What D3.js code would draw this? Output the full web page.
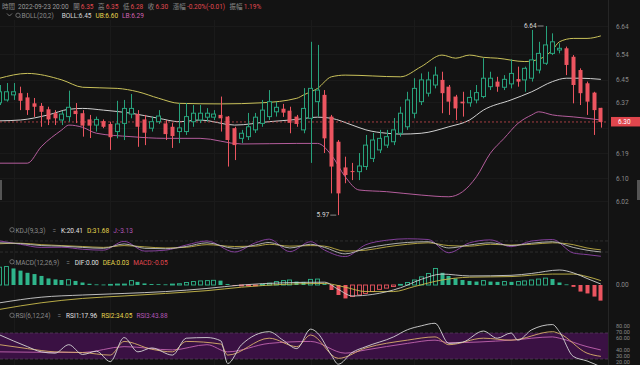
<!DOCTYPE html>
<html><head><meta charset="utf-8">
<script src="https://cdn.jsdelivr.net/npm/d3@7"></script>
<style>html,body{margin:0;padding:0;background:#131313;}svg{display:block;}</style>
</head><body><svg id="c" width="640" height="365"></svg>
<script>
// ---------------- DATA ----------------
const openP  = [6.368,6.378,6.396,6.402,6.387,6.366,6.357,6.345,6.331,6.307,6.319,6.340,6.331,6.309,6.289,6.303,6.293,6.266,6.295,6.328,6.328,6.309,6.278,6.301,6.295,6.283,6.266,6.266,6.301,6.307,6.317,6.317,6.325,6.319,6.278,6.242,6.248,6.272,6.295,6.319,6.336,6.347,6.340,6.319,6.272,6.313,6.372,6.396,6.319,6.230,6.139,6.126,6.124,6.142,6.171,6.201,6.218,6.230,6.260,6.283,6.331,6.372,6.402,6.431,6.449,6.425,6.390,6.372,6.368,6.378,6.390,6.425,6.443,6.423,6.435,6.452,6.449,6.455,6.484,6.508,6.543,6.555,6.561,6.531,6.484,6.437,6.404,6.350];
const highP  = [6.431,6.438,6.438,6.425,6.403,6.385,6.367,6.354,6.342,6.339,6.411,6.367,6.342,6.325,6.319,6.309,6.301,6.375,6.378,6.399,6.342,6.325,6.319,6.342,6.307,6.296,6.367,6.367,6.360,6.360,6.349,6.342,6.390,6.321,6.283,6.272,6.332,6.332,6.378,6.413,6.372,6.364,6.354,6.325,6.420,6.584,6.573,6.413,6.325,6.236,6.177,6.155,6.190,6.254,6.261,6.272,6.272,6.314,6.354,6.407,6.455,6.472,6.478,6.496,6.478,6.431,6.396,6.407,6.413,6.431,6.526,6.478,6.460,6.466,6.522,6.496,6.496,6.626,6.584,6.640,6.614,6.579,6.567,6.537,6.490,6.443,6.407,6.350];
const lowP   = [6.360,6.372,6.378,6.342,6.325,6.318,6.283,6.289,6.289,6.289,6.301,6.296,6.248,6.243,6.266,6.278,6.201,6.242,6.236,6.313,6.212,6.218,6.266,6.293,6.236,6.208,6.225,6.254,6.283,6.296,6.301,6.307,6.266,6.142,6.165,6.225,6.236,6.261,6.283,6.307,6.319,6.318,6.260,6.283,6.260,6.155,6.319,6.190,6.047,5.970,6.083,6.094,6.094,6.130,6.158,6.190,6.208,6.218,6.248,6.272,6.313,6.360,6.390,6.419,6.331,6.325,6.307,6.319,6.354,6.366,6.384,6.413,6.407,6.413,6.419,6.425,6.407,6.443,6.472,6.502,6.537,6.543,6.466,6.366,6.360,6.325,6.254,6.280];
const closeP = [6.407,6.407,6.407,6.375,6.342,6.354,6.336,6.309,6.313,6.328,6.352,6.328,6.287,6.287,6.309,6.283,6.246,6.293,6.348,6.348,6.283,6.262,6.301,6.321,6.257,6.250,6.279,6.319,6.331,6.331,6.331,6.328,6.313,6.236,6.218,6.260,6.283,6.317,6.342,6.372,6.352,6.333,6.297,6.293,6.348,6.419,6.413,6.242,6.142,6.047,6.112,6.123,6.144,6.218,6.236,6.242,6.248,6.272,6.331,6.378,6.419,6.449,6.449,6.466,6.402,6.372,6.348,6.366,6.387,6.404,6.455,6.455,6.425,6.451,6.472,6.443,6.490,6.520,6.543,6.573,6.584,6.561,6.502,6.431,6.402,6.372,6.342,6.300];

const bollUpper = [[0,6.455],[4,6.472],[9,6.449],[12,6.423],[17,6.419],[20,6.407],[23,6.384],[26,6.366],[32,6.364],[38,6.368],[43,6.384],[44,6.396],[46,6.419],[48,6.460],[50,6.466],[58,6.460],[61,6.496],[64,6.537],[66,6.526],[68,6.537],[70,6.529],[72,6.526],[76,6.514],[78,6.522],[80,6.555],[81,6.584],[83,6.596],[85,6.596],[87,6.605]];
const bollMid = [[0,6.304],[3,6.307],[7,6.325],[10,6.345],[12,6.348],[15,6.342],[19,6.331],[23,6.313],[26,6.301],[29,6.307],[34,6.289],[39,6.301],[43,6.309],[46,6.317],[48,6.313],[51,6.289],[53,6.272],[56,6.260],[58,6.257],[61,6.260],[65,6.283],[68,6.307],[70,6.342],[74,6.378],[77,6.407],[80,6.443],[82,6.455],[84,6.455],[87,6.451]];
const bollLower = [[0,6.154],[4,6.154],[6,6.212],[9,6.272],[10,6.289],[12,6.281],[14,6.260],[19,6.248],[24,6.242],[29,6.242],[35,6.222],[43,6.224],[46,6.224],[48,6.183],[50,6.106],[52,6.059],[56,6.053],[61,6.041],[65,6.035],[67,6.053],[69,6.106],[71,6.189],[73,6.242],[75,6.295],[77,6.325],[78,6.336],[80,6.325],[83,6.318],[85,6.313],[87,6.307]];
const priceTicks = [6.02,6.10,6.19,6.37,6.45,6.54,6.64];
const priceGrid = [6.02,6.10,6.19,6.28,6.37,6.45,6.54,6.64];

const kSeries = [[0,70],[3,66],[6,55],[9,52],[12,45],[15,40],[18,64],[21,40],[24,38],[27,50],[30,70],[34,40],[37,58],[39,72],[42,42],[45,62],[47,45],[50,10],[53,40],[56,60],[59,72],[62,76],[65,42],[68,58],[71,70],[74,55],[77,68],[80,76],[83,45],[85,30],[87,20.41]];
const dSeries = [[0,65],[3,68],[6,60],[9,55],[12,50],[15,45],[18,55],[21,48],[24,42],[27,46],[30,60],[34,50],[37,52],[39,62],[42,52],[45,55],[47,52],[50,25],[53,30],[56,48],[59,62],[62,70],[65,55],[68,52],[71,62],[74,58],[77,62],[80,70],[83,60],[85,42],[87,31.68]];
const jSeries = [[0,80],[3,62],[6,45],[9,46],[12,35],[15,30],[18,78],[21,25],[24,30],[27,58],[30,80],[34,20],[37,70],[39,90],[42,22],[45,76],[47,31],[50,-5],[53,60],[56,84],[59,92],[62,88],[65,16],[68,70],[71,86],[74,49],[77,80],[80,88],[83,15],[85,6],[87,-3.13]];
const kdjLevels = [20,80];

const macdHist = [0.057,0.059,0.053,0.046,0.039,0.035,0.029,0.021,0.018,0.016,0.017,0.013,0.008,0.004,0.002,0.0015,0.002,0.003,0.003,0.014,0.010,0.005,0.003,0.0025,0.002,0.003,0.004,0.008,0.011,0.013,0.014,0.015,0.014,0.003,-0.003,-0.003,-0.002,-0.002,0.002,0.006,0.011,0.014,0.016,0.011,0.010,0.018,0.019,0.003,-0.016,-0.032,-0.043,-0.037,-0.032,-0.027,-0.021,-0.014,-0.010,-0.005,0.002,0.008,0.016,0.026,0.037,0.053,0.039,0.029,0.021,0.016,0.013,0.011,0.014,0.011,0.010,0.011,0.010,0.011,0.013,0.016,0.019,0.022,0.019,0.008,0.002,-0.006,-0.021,-0.027,-0.037,-0.050];
const difSeries = [[0,-0.057],[6,-0.039],[12,-0.032],[18,-0.027],[24,-0.021],[30,-0.011],[35,0.000],[41,0.007],[47,0.009],[49,-0.014],[51,-0.035],[54,-0.030],[58,-0.009],[61,0.018],[64,0.035],[68,0.029],[74,0.031],[77,0.037],[81,0.048],[83,0.039],[85,0.021],[87,0.003]];
const deaSeries = [[0,-0.078],[6,-0.057],[12,-0.043],[18,-0.035],[24,-0.027],[30,-0.018],[35,-0.007],[41,0.002],[47,0.005],[50,-0.007],[53,-0.021],[57,-0.021],[60,-0.005],[64,0.016],[68,0.025],[74,0.027],[80,0.035],[83,0.035],[85,0.027],[87,0.014]];

const rsi1 = [[0,67],[4,49],[6,41],[8,39],[10,52],[12,37],[14,42],[16,26],[18,63],[20,41],[22,47],[25,36],[27,62],[30,63],[32,58],[33,23],[35,52],[39,72],[41,59],[43,46],[45,76],[46,70],[48,36],[49,22],[51,40],[53,49],[57,64],[59,75],[61,81],[63,85],[65,54],[67,56],[70,73],[72,62],[74,70],[75,59],[77,75],[80,83],[81,72],[83,34],[85,27],[87,17.96]];
const rsi2 = [[0,52],[4,46],[8,41],[12,40],[16,36],[18,57],[22,45],[25,41],[27,57],[32,53],[33,36],[39,62],[43,49],[45,67],[49,31],[53,47],[59,59],[63,64],[65,52],[70,62],[74,59],[80,72],[81,69],[85,39],[87,34.05]];
const rsi3 = [[0,41],[12,40],[18,49],[25,44],[30,52],[33,41],[39,54],[45,57],[50,39],[53,44],[59,54],[63,59],[65,55],[74,59],[80,64],[81,62],[85,49],[87,43.88]];
const rsiTicks = [80,70,60,40,30,20];
const rsiBand = [30,70];

const headLabels = ['時間','開','高','低','收','漲幅','振幅'];
const headValues = ['2022-09-23 20:00','6.35','6.35','6.28','6.30','-0.20%(-0.01)','1.19%'];

// ---------------- DRAW ----------------
const N = openP.length;
const BG = '#131313', GREEN = '#27a27c', RED = '#ec5560', GRAY = '#8a8a8a';
const FONT = "Roboto, 'Noto Sans CJK TC', sans-serif";
const RIGHT = 608;
const svg = d3.select('#c').style('font-family', FONT).style('font-size', '6.5px');
svg.append('rect').attr('width', 640).attr('height', 365).attr('fill', BG);

const x = d3.scaleBand().domain(d3.range(N)).range([-3.755, 604.3]).paddingInner(0.3).paddingOuter(0.15);
const cx = i => x(i) + x.bandwidth() / 2;
const y = d3.scaleLinear().domain([6.02, 6.64]).range([201, 26]);

// grid
const grid = svg.append('g');
grid.selectAll('line.h').data(priceGrid).join('line')
  .attr('x1', 0).attr('x2', RIGHT).attr('y1', d => Math.round(y(d)) + 0.5).attr('y2', d => Math.round(y(d)) + 0.5)
  .attr('stroke', '#1a1a1a');
grid.selectAll('line.v').data([2, 16, 31, 45, 60, 74]).join('line')
  .attr('x1', d => Math.round(cx(d)) + 0.5).attr('x2', d => Math.round(cx(d)) + 0.5).attr('y1', 20).attr('y2', 365)
  .attr('stroke', '#1a1a1a');
svg.append('line').attr('x1', RIGHT + 0.5).attr('x2', RIGHT + 0.5).attr('y1', 0).attr('y2', 365).attr('stroke', '#262626');

// clip for price panel
svg.append('clipPath').attr('id', 'pc').append('rect').attr('x', 0).attr('y', 20).attr('width', RIGHT).attr('height', 202);
const pg = svg.append('g').attr('clip-path', 'url(#pc)');

const line = (sx, sy) => d3.line().x(d => cx(d[0])).y(d => sy(d[1])).curve(d3.curveMonotoneX);

// Bollinger
pg.append('path').attr('d', line(x, y)(bollUpper)).attr('fill', 'none').attr('stroke', '#c9c15a').attr('stroke-width', 1);
pg.append('path').attr('d', line(x, y)(bollMid)).attr('fill', 'none').attr('stroke', '#cfcfcf').attr('stroke-width', 1);
pg.append('path').attr('d', line(x, y)(bollLower)).attr('fill', 'none').attr('stroke', '#b45d9c').attr('stroke-width', 1);

// current price dashed line
pg.append('line').attr('x1', 0).attr('x2', RIGHT).attr('y1', y(closeP[N - 1])).attr('y2', y(closeP[N - 1]))
  .attr('stroke', '#c9474e').attr('stroke-dasharray', '2,2').attr('stroke-width', 0.8);

// candles
const idx = d3.range(N);
const up = i => closeP[i] >= openP[i];
pg.selectAll('line.wick').data(idx).join('line')
  .attr('x1', i => Math.round(cx(i)) + 0.5).attr('x2', i => Math.round(cx(i)) + 0.5)
  .attr('y1', i => y(highP[i])).attr('y2', i => y(lowP[i]))
  .attr('stroke', i => up(i) ? GREEN : RED).attr('stroke-width', 1);
pg.selectAll('rect.body').data(idx).join('rect')
  .attr('x', i => Math.round(x(i)) + 0.5)
  .attr('width', Math.round(x.bandwidth()) - 1)
  .attr('y', i => y(Math.max(openP[i], closeP[i])))
  .attr('height', i => Math.max(1, Math.abs(y(openP[i]) - y(closeP[i]))))
  .attr('fill', i => up(i) ? BG : RED)
  .attr('stroke', i => up(i) ? GREEN : RED).attr('stroke-width', i => up(i) ? 1 : 0);

// high / low annotations
const hiI = d3.maxIndex(highP), loI = d3.minIndex(lowP);
function annot(i, v) {
  const ty = y(v);
  svg.append('text').attr('x', cx(i) - 9).attr('y', ty + 2.2).attr('text-anchor', 'end').attr('fill', '#d6d6d6').text(d3.format('.2f')(v));
  svg.append('line').attr('x1', cx(i) - 8).attr('x2', cx(i) - 2).attr('y1', ty).attr('y2', ty).attr('stroke', '#bbbbbb').attr('stroke-width', 0.7);
}
annot(hiI, highP[hiI]);
annot(loI, lowP[loI]);

// price axis
const pAxis = svg.append('g').attr('transform', `translate(616,0)`)
  .call(d3.axisRight(y).tickValues(priceTicks).tickSize(0).tickPadding(0).tickFormat(d3.format('.2f')));
pAxis.select('.domain').remove();
pAxis.selectAll('text').attr('fill', GRAY).style('font-size', '6.5px').style('font-family', FONT);
// last price tag
const ly = y(closeP[N - 1]);
svg.append('rect').attr('x', 611).attr('y', ly - 5).attr('width', 29).attr('height', 9.5).attr('fill', '#e0464d');
svg.append('text').attr('x', 618).attr('y', ly + 2.2).attr('fill', '#ffffff').text(d3.format('.2f')(closeP[N - 1]));
// edge handles
svg.append('rect').attr('x', 0).attr('y', 180).attr('width', 2).attr('height', 20).attr('fill', '#555');
svg.append('rect').attr('x', 637).attr('y', 180).attr('width', 3).attr('height', 20).attr('fill', '#555');

// ---------- text helpers ----------
function flow(x0, yb, pieces) {
  let xx = x0;
  pieces.forEach(p => {
    xx += p.gap || 0;
    const t = svg.append('text').attr('x', xx).attr('y', yb).attr('fill', p.c).text(p.t);
    xx += t.node().getComputedTextLength();
  });
}
function eye(xc, yc) {
  svg.append('circle').attr('cx', xc).attr('cy', yc).attr('r', 2.2).attr('fill', 'none').attr('stroke', GRAY).attr('stroke-width', 0.7);
  svg.append('line').attr('x1', xc + 1.5).attr('y1', yc + 1.5).attr('x2', xc + 2.6).attr('y2', yc + 2.6).attr('stroke', GRAY).attr('stroke-width', 0.7);
}

// header line 1
const p1 = [];
headLabels.forEach((l, k) => {
  p1.push({ t: l, c: GRAY, gap: k === 0 ? 0 : 4.5 });
  p1.push({ t: headValues[k], c: k === 0 ? '#9a9a9a' : '#e0484f', gap: k === 0 ? 3 : 1.2 });
});
flow(2, 9, p1);
// header line 2
svg.append('path').attr('d', 'M7,13.5 L9.5,16 L12,13.5').attr('fill', 'none').attr('stroke', GRAY).attr('stroke-width', 0.8);
eye(18, 15.3);
flow(21.5, 18, [
  { t: 'BOLL(20,2)', c: GRAY },
  { t: 'BOLL:6.45', c: '#d8d8d8', gap: 8 },
  { t: 'UB:6.60', c: '#e5d34e', gap: 4 },
  { t: 'LB:6.29', c: '#cf62b2', gap: 4 }
]);

// ---------- KDJ ----------
const yK = d3.scaleLinear().domain([0, 100]).range([255.7, 237.3]);
eye(12, 229.8);
flow(15.5, 232.5, [
  { t: 'KDJ(9,3,3)', c: GRAY },
  { t: '=', c: GRAY, gap: 7 },
  { t: 'K:20.41', c: '#e0e0e0', gap: 5 },
  { t: 'D:31.68', c: '#e5d34e', gap: 4 },
  { t: 'J:-3.13', c: '#b456b8', gap: 4 }
]);
svg.append('clipPath').attr('id', 'kc').append('rect').attr('x', 0).attr('y', 235).attr('width', RIGHT).attr('height', 22);
const kg = svg.append('g').attr('clip-path', 'url(#kc)');
kg.selectAll('line.lv').data(kdjLevels).join('line')
  .attr('x1', 0).attr('x2', RIGHT).attr('y1', d => yK(d)).attr('y2', d => yK(d))
  .attr('stroke', '#3a3a3a').attr('stroke-dasharray', '3,2').attr('stroke-width', 0.7);
kg.append('path').attr('d', line(x, yK)(jSeries)).attr('fill', 'none').attr('stroke', '#8e44a8').attr('stroke-width', 0.9);
kg.append('path').attr('d', line(x, yK)(dSeries)).attr('fill', 'none').attr('stroke', '#bfae45').attr('stroke-width', 0.9);
kg.append('path').attr('d', line(x, yK)(kSeries)).attr('fill', 'none').attr('stroke', '#bdbdbd').attr('stroke-width', 0.9);

// ---------- MACD ----------
const yM = d3.scaleLinear().domain([0, 0.05]).range([285, 269.375]);
eye(12, 261.8);
flow(15.5, 264.5, [
  { t: 'MACD(12,26,9)', c: GRAY },
  { t: '=', c: GRAY, gap: 7 },
  { t: 'DIF:0.00', c: '#e0e0e0', gap: 5 },
  { t: 'DEA:0.03', c: '#e5d34e', gap: 4 },
  { t: 'MACD:-0.05', c: '#e0484f', gap: 4 }
]);
const bw = Math.round(x.bandwidth()) - 1;
svg.selectAll('rect.mh').data(idx).join('rect')
  .attr('x', i => Math.round(x(i)) + 0.5)
  .attr('width', bw)
  .attr('y', i => Math.min(yM(0), yM(macdHist[i])))
  .attr('height', i => Math.max(0.8, Math.abs(yM(macdHist[i]) - yM(0))))
  .attr('fill', i => (i === 0 || macdHist[i] >= macdHist[i - 1]) ? BG : (macdHist[i] >= 0 ? '#2fb58b' : RED))
  .attr('stroke', i => macdHist[i] >= 0 ? '#2fb58b' : RED)
  .attr('stroke-width', i => (i === 0 || macdHist[i] >= macdHist[i - 1]) ? 0.9 : 0);
svg.append('path').attr('d', line(x, yM)(deaSeries)).attr('fill', 'none').attr('stroke', '#c9bb4c').attr('stroke-width', 0.9);
svg.append('path').attr('d', line(x, yM)(difSeries)).attr('fill', 'none').attr('stroke', '#cfcfcf').attr('stroke-width', 0.9);
svg.append('text').attr('x', 616).attr('y', yM(0) + 2.2).attr('fill', GRAY).text('0.00');

// ---------- RSI ----------
const yR = d3.scaleLinear().domain([30, 70]).range([359, 333]);
eye(12, 315.3);
flow(15.5, 318, [
  { t: 'RSI(6,12,24)', c: GRAY },
  { t: '=', c: GRAY, gap: 7 },
  { t: 'RSI1:17.96', c: '#e0e0e0', gap: 5 },
  { t: 'RSI2:34.05', c: '#e5d34e', gap: 4 },
  { t: 'RSI3:43.88', c: '#b456b8', gap: 4 }
]);
svg.append('rect').attr('x', 0).attr('y', yR(rsiBand[1])).attr('width', RIGHT).attr('height', yR(rsiBand[0]) - yR(rsiBand[1])).attr('fill', '#3a1143');
svg.selectAll('line.rl').data(rsiBand).join('line')
  .attr('x1', 0).attr('x2', RIGHT).attr('y1', d => yR(d)).attr('y2', d => yR(d))
  .attr('stroke', '#5a4060').attr('stroke-dasharray', '3,2').attr('stroke-width', 0.7);
svg.append('clipPath').attr('id', 'rc').append('rect').attr('x', 0).attr('y', 320).attr('width', RIGHT).attr('height', 45);
const rg = svg.append('g').attr('clip-path', 'url(#rc)');
rg.append('path').attr('d', line(x, yR)(rsi3)).attr('fill', 'none').attr('stroke', '#c264b0').attr('stroke-width', 0.9);
rg.append('path').attr('d', line(x, yR)(rsi2)).attr('fill', 'none').attr('stroke', '#d9b06a').attr('stroke-width', 0.9);
rg.append('path').attr('d', line(x, yR)(rsi1)).attr('fill', 'none').attr('stroke', '#d6d6d6').attr('stroke-width', 0.9);
// RSI axis labels (slightly compressed toward the top, as in the source)
const yRlab = d3.scaleLinear().domain([20, 80]).range([361.5, 326]);
const rAxis = svg.append('g').attr('transform', 'translate(616,0)')
  .call(d3.axisRight(yRlab).tickValues(rsiTicks).tickSize(0).tickPadding(0).tickFormat(d3.format('.2f')));
rAxis.select('.domain').remove();
rAxis.selectAll('text').attr('fill', GRAY).style('font-size', '5.5px').style('font-family', FONT);
</script></body></html>
